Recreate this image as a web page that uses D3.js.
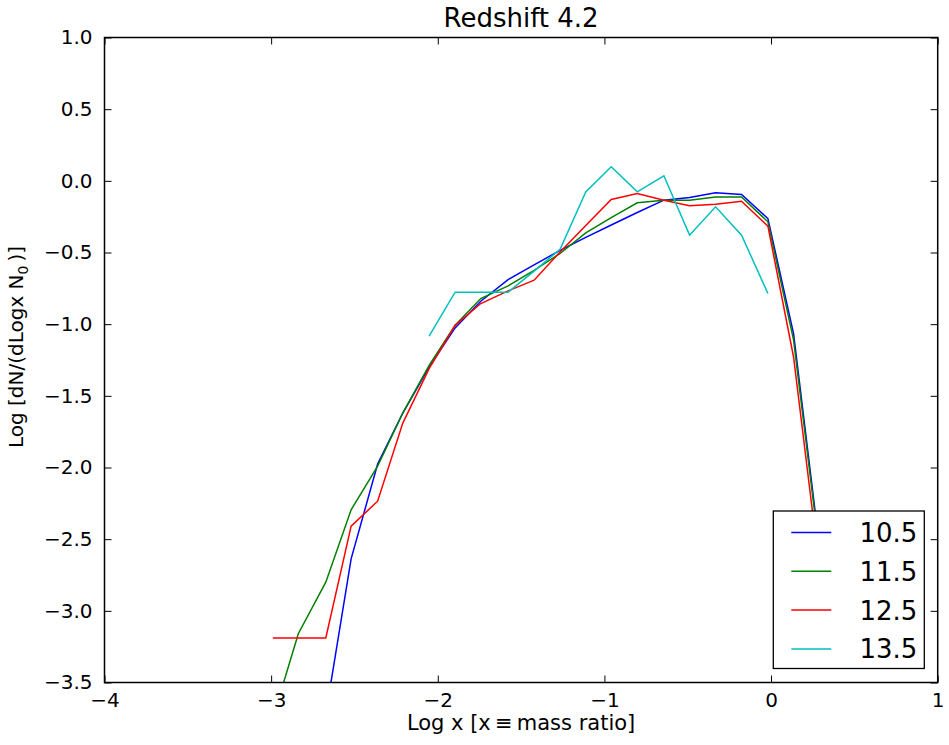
<!DOCTYPE html>
<html>
<head>
<meta charset="utf-8">
<script src="https://cdn.jsdelivr.net/npm/d3@7"></script>
<style>
body { margin:0; background:#fff; }
text { font-family: "DejaVu Sans", sans-serif; }
</style>
</head>
<body>
<div id="chart-area"></div>
<script>

/**
 * Redshift 4.2 line chart
 */

var logX = [-2.99,-2.837,-2.672,-2.52,-2.361,-2.21,-2.052,-1.896,-1.742,-1.578,-1.422,
            -1.266,-1.112,-0.959,-0.803,-0.643,-0.489,-0.333,-0.177,-0.019,0.135,0.29];

var mass105 = [null,null,-3.72,-2.637,-1.976,-1.62,-1.30,-1.026,-0.84,-0.689,-0.587,
               -0.485,-0.394,-0.308,-0.221,-0.135,-0.116,-0.084,-0.095,-0.263,-1.066,-2.55];
var mass115 = [-3.75,-3.16,-2.80,-2.295,-1.99,-1.62,-1.287,-1.008,-0.821,-0.733,-0.624,
               -0.507,-0.363,-0.256,-0.153,-0.135,-0.135,-0.112,-0.112,-0.286,-1.11,-2.58];
var mass125 = [-3.189,-3.189,-3.189,-2.409,-2.235,-1.69,-1.31,-1.008,-0.856,-0.768,-0.693,
               -0.496,-0.311,-0.130,-0.088,-0.135,-0.174,-0.163,-0.142,-0.316,-1.229,-2.70];
var mass135 = [null,null,null,null,null,null,-1.084,-0.777,-0.777,-0.777,-0.63,
               -0.477,-0.077,0.098,-0.077,0.035,-0.379,-0.181,-0.379,-0.786,null,null];

var seriesNames = ['10.5','11.5','12.5','13.5'];
var seriesColors = ['#0000ff','#008000','#ff0000','#00bfbf'];
var seriesValues = [mass105,mass115,mass125,mass135];

var xTicks = [-4,-3,-2,-1,0,1];
var yTicks = [1.0,0.5,0.0,-0.5,-1.0,-1.5,-2.0,-2.5,-3.0,-3.5];

var svgWidth = 949;
var svgHeight = 745;

var margin = {left:104.5,right:11.3,top:37.5,bottom:62.5};

var width = svgWidth - margin.left - margin.right;
var height = svgHeight - margin.top - margin.bottom;

var svg = d3.select('#chart-area')
            .append('svg')
            .attr('width',svgWidth)
            .attr('height',svgHeight);

var g = svg.append('g')
           .attr('transform','translate('+margin.left+','+margin.top+')');

var xScale = d3.scaleLinear()
               .domain([-4,1])
               .range([0,width]);

var yScale = d3.scaleLinear()
               .domain([-3.5,1])
               .range([height,0]);

var minus = function(s){ return s.replace('-','\u2212'); };

g.append('clipPath')
 .attr('id','plot-clip')
 .append('rect')
 .attr('width',width)
 .attr('height',height);

// lines
var line = d3.line()
             .defined(function(d){ return d.y !== null; })
             .x(function(d){ return xScale(d.x); })
             .y(function(d){ return yScale(d.y); });

var lines = g.append('g').attr('clip-path','url(#plot-clip)');

seriesValues.forEach(function(vals,i){
    var pts = logX.map(function(x,j){ return {x:x,y:vals[j]}; });
    lines.append('path')
         .datum(pts)
         .attr('d',line)
         .attr('fill','none')
         .attr('stroke',seriesColors[i])
         .attr('stroke-width',1.5);
});

// axes, ticks inward on all four sides
var tickLen = 7;

var xBottom = d3.axisBottom(xScale)
                .tickValues(xTicks)
                .tickSizeInner(-tickLen)
                .tickSizeOuter(0)
                .tickPadding(10)
                .tickFormat(function(d){ return minus(d3.format('d')(d)); });

var xTop = d3.axisTop(xScale)
             .tickValues(xTicks)
             .tickSizeInner(-tickLen)
             .tickSizeOuter(0)
             .tickFormat('');

var yLeft = d3.axisLeft(yScale)
              .tickValues(yTicks)
              .tickSizeInner(-tickLen)
              .tickSizeOuter(0)
              .tickPadding(12)
              .tickFormat(function(d){ return minus(d3.format('.1f')(d)); });

var yRight = d3.axisRight(yScale)
               .tickValues(yTicks)
               .tickSizeInner(-tickLen)
               .tickSizeOuter(0)
               .tickFormat('');

var axes = [
    g.append('g').attr('transform','translate(0,'+height+')').call(xBottom),
    g.append('g').call(xTop),
    g.append('g').call(yLeft),
    g.append('g').attr('transform','translate('+width+',0)').call(yRight)
];

axes.forEach(function(a){
    a.select('.domain').remove();
    a.selectAll('line').attr('stroke','#000').attr('stroke-width',1);
    a.selectAll('text')
     .attr('fill','#000')
     .style('font-size','20px')
     .style('font-family','"DejaVu Sans", sans-serif');
});

// frame
g.append('rect')
 .attr('width',width)
 .attr('height',height)
 .attr('fill','none')
 .attr('stroke','#000')
 .attr('stroke-width',1.5);

// legend
var legend = g.append('g')
              .attr('transform','translate('+(773.3-margin.left)+','+(511-margin.top)+')');

legend.append('rect')
      .attr('width',151)
      .attr('height',157.5)
      .attr('fill','#fff')
      .attr('stroke','#000')
      .attr('stroke-width',1.3);

seriesNames.forEach(function(name,i){
    var row = legend.append('g')
                    .attr('transform','translate(0,'+(21.5+i*38.8)+')');
    row.append('line')
       .attr('x1',18)
       .attr('x2',58)
       .attr('stroke',seriesColors[i])
       .attr('stroke-width',1.5);
    row.append('text')
       .attr('x',144)
       .attr('y',9.5)
       .attr('text-anchor','end')
       .style('font-size','26px')
       .text(name);
});

// title and labels
svg.append('text')
   .attr('x',margin.left+width/2)
   .attr('y',27)
   .attr('text-anchor','middle')
   .style('font-size','26px')
   .text('Redshift 4.2');

svg.append('text')
   .attr('x',margin.left+width/2)
   .attr('y',730)
   .attr('text-anchor','middle')
   .style('font-size','21px')
   .text('Log x [x\u2009\u2261\u2009mass ratio]');

var yLabel = svg.append('text')
   .attr('transform','translate(23,347) rotate(-90)')
   .attr('text-anchor','middle')
   .style('font-size','20px');
yLabel.append('tspan').text('Log [dN/(dLogx N');
yLabel.append('tspan').attr('dy',5).style('font-size','14px').text('0');
yLabel.append('tspan').attr('dy',-5).text('\u2009)]');

</script>
</body>
</html>
